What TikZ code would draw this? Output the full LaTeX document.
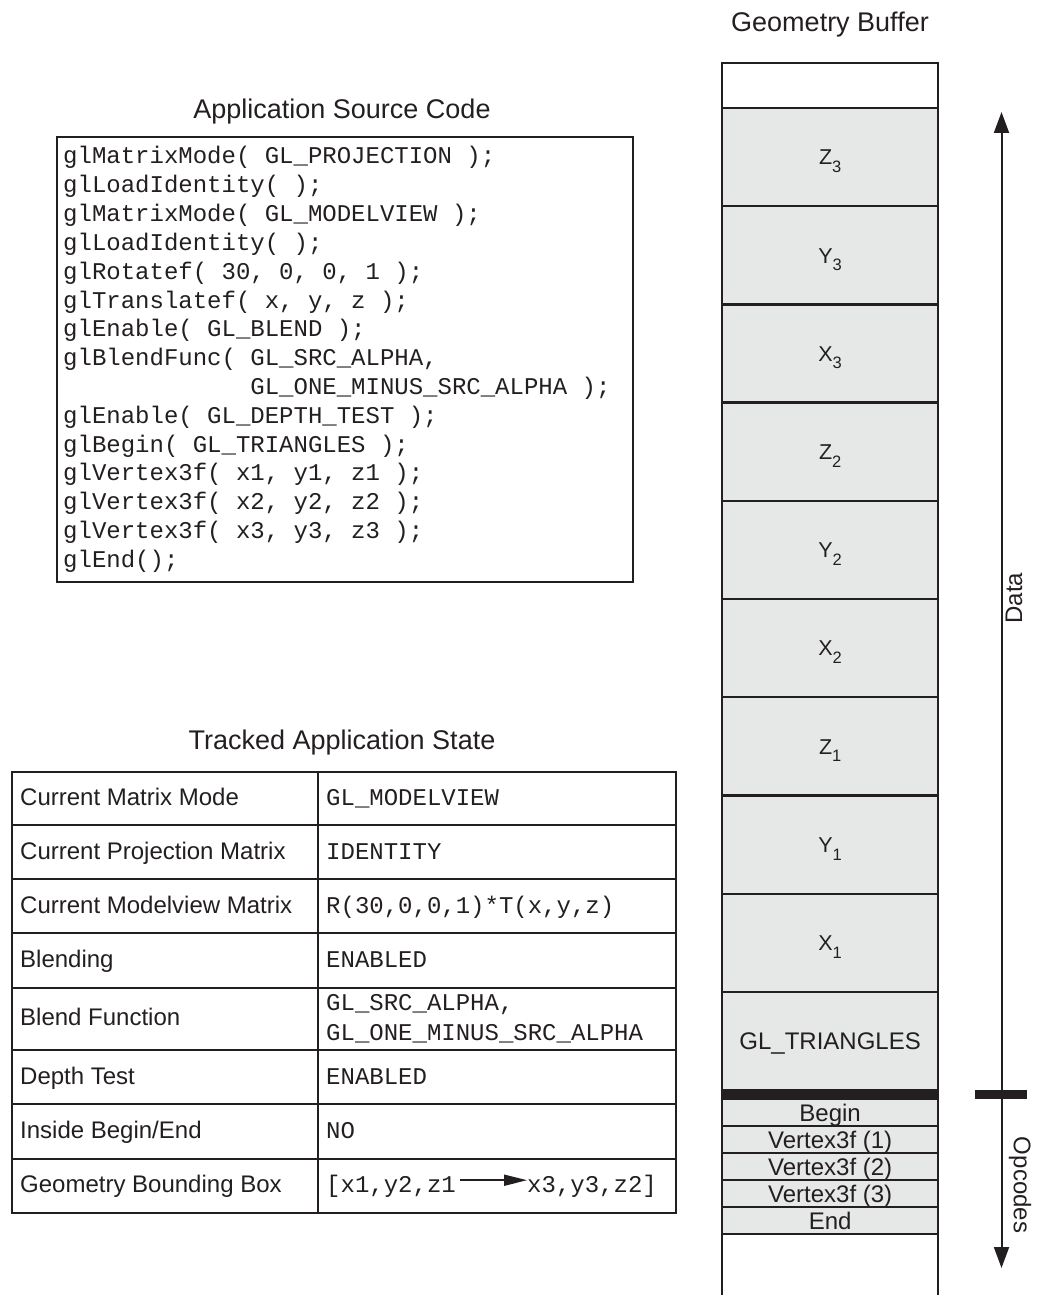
\documentclass[tikz,border=0pt]{standalone}
\usepackage{fontspec}
\setmainfont{Liberation Sans}
\setmonofont{Liberation Mono}
\usetikzlibrary{arrows.meta}
\definecolor{ink}{HTML}{231F20}
\definecolor{cellgray}{HTML}{E6E7E7}
\newcommand{\codefont}{\ttfamily\frenchspacing\fontsize{24}{24}\selectfont}
\newcommand{\sansfont}{\fontsize{24}{24}\selectfont}
\newcommand{\titlefont}{\fontsize{27}{27}\selectfont}
\newcommand{\bufsub}[2]{#1\raisebox{-7.7pt}{\fontsize{16.5}{16.5}\selectfont #2}}
\begin{document}
\begin{tikzpicture}[x=1pt,y=-1pt,
  every node/.style={text=ink},
  title/.style={font=\titlefont, anchor=base, inner sep=0pt},
  codeline/.style={font=\codefont, anchor=base west, inner sep=0pt},
  lbltext/.style={font=\sansfont, anchor=base west, inner sep=0pt},
  valtext/.style={font=\codefont, anchor=base west, inner sep=0pt},
  tcell/.style={draw=ink, line width=2pt, inner sep=0pt, anchor=north west},
  bcell/.style={draw=ink, line width=2.3pt, fill=cellgray, inner sep=0pt, minimum width=215.7pt, text height=17.2pt, text depth=0pt, font=\sansfont},
  lcell/.style={bcell, text height=15.4pt, font=\fontsize{21.5}{21.5}\selectfont},
  arr/.style={draw=ink, line width=2pt, -{Triangle[length=21pt,width=15pt]}},
  thick bar/.style={draw=ink, line width=9.3pt}
]
\useasboundingbox (0,0) rectangle (1037,1295);

% ---------- Application source code ----------
\node[title] (srcTitle) at (342,119) {Application Source Code};
\node[draw=ink, line width=2pt, inner sep=0pt, minimum width=576pt, minimum height=445pt, anchor=north west] (codeBox) at (56,136) {};
\node[codeline] (c1)  at (63,164.0) {glMatrixMode( GL\_PROJECTION );};
\node[codeline] (c2)  at (63,192.8) {glLoadIdentity( );};
\node[codeline] (c3)  at (63,221.6) {glMatrixMode( GL\_MODELVIEW );};
\node[codeline] (c4)  at (63,250.4) {glLoadIdentity( );};
\node[codeline] (c5)  at (63,279.2) {glRotatef( 30, 0, 0, 1 );};
\node[codeline] (c6)  at (63,308.0) {glTranslatef( x, y, z );};
\node[codeline] (c7)  at (63,336.8) {glEnable( GL\_BLEND );};
\node[codeline] (c8)  at (63,365.6) {glBlendFunc( GL\_SRC\_ALPHA,};
\node[codeline] (c9)  at (63,394.4) {\hphantom{glBlendFunc( }GL\_ONE\_MINUS\_SRC\_ALPHA );};
\node[codeline] (c10) at (63,423.2) {glEnable( GL\_DEPTH\_TEST );};
\node[codeline] (c11) at (63,452.0) {glBegin( GL\_TRIANGLES );};
\node[codeline] (c12) at (63,480.8) {glVertex3f( x1, y1, z1 );};
\node[codeline] (c13) at (63,509.6) {glVertex3f( x2, y2, z2 );};
\node[codeline] (c14) at (63,538.4) {glVertex3f( x3, y3, z3 );};
\node[codeline] (c15) at (63,567.2) {glEnd();};

% ---------- Tracked application state ----------
\node[title] (stTitle) at (342,749.3) {Tracked Application State};
% rows: 770.7, 824, 878.3, 932.3, 986.7, 1049.3, 1103.3, 1157.7, 1211.7
\foreach \n/\top/\h in {1/770.7/53.3, 2/824/54.3, 3/878.3/54, 4/932.3/54.4, 5/986.7/62.6, 6/1049.3/54, 7/1103.3/54.4, 8/1157.7/54}{
  \node[tcell, minimum width=306pt, minimum height=\h pt] (L\n) at (10.7,\top) {};
  \node[tcell, minimum width=358.3pt, minimum height=\h pt] (V\n) at (316.7,\top) {};
}
\node[lbltext] (l1) at (20,805.3) {Current Matrix Mode};
\node[lbltext] (l2) at (20,859.2) {Current Projection Matrix};
\node[lbltext] (l3) at (20,913.3) {Current Modelview Matrix};
\node[lbltext] (l4) at (20,967.5) {Blending};
\node[lbltext] (l5) at (20,1025.5) {Blend Function};
\node[lbltext] (l6) at (20,1084.3) {Depth Test};
\node[lbltext] (l7) at (20,1138.5) {Inside Begin/End};
\node[lbltext] (l8) at (20,1192.7) {Geometry Bounding Box};

\node[valtext] (v1) at (326,805.3) {GL\_MODELVIEW};
\node[valtext] (v2) at (326,859.2) {IDENTITY};
\node[valtext] (v3) at (326,913.3) {R(30,0,0,1)*T(x,y,z)};
\node[valtext] (v4) at (326,967.5) {ENABLED};
\node[valtext] (v5a) at (326,1010.7) {GL\_SRC\_ALPHA,};
\node[valtext] (v5b) at (326,1040.0) {GL\_ONE\_MINUS\_SRC\_ALPHA};
\node[valtext] (v6) at (326,1084.3) {ENABLED};
\node[valtext] (v7) at (326,1138.5) {NO};
\node[valtext] (v8a) at (326,1192.7) {[x1,y2,z1};
\node[valtext] (v8b) at (527,1192.7) {x3,y3,z2]};
\draw[draw=ink, line width=1.6pt, -{Triangle[length=23pt,width=11pt]}]
  ([xshift=4pt,yshift=12.5pt]v8a.base east) -- ([yshift=12.5pt]v8b.base west);

% ---------- Geometry buffer ----------
\node[title] (gbTitle) at (830,31.5) {Geometry Buffer};
\coordinate (bTL) at (722.3,63);
\coordinate (bBL) at (722.3,1295);
\coordinate (bTR) at (938,63);
\coordinate (bBR) at (938,1295);
\draw[draw=ink, line width=2.3pt] (bTL) -- (bBL);
\draw[draw=ink, line width=2.3pt] (bTR) -- (bBR);
\node[bcell, fill=white, minimum height=45pt] (topFree) at (830.15,85.5) {};
\node[lcell, minimum height=98.2pt] (Z3) at (830.15,157.1) {\bufsub{Z}{3}};
\node[lcell, minimum height=98.2pt] (Y3) at (830.15,255.3) {\bufsub{Y}{3}};
\node[lcell, minimum height=98.2pt] (X3) at (830.15,353.5) {\bufsub{X}{3}};
\node[lcell, minimum height=98.2pt] (Z2) at (830.15,451.8) {\bufsub{Z}{2}};
\node[lcell, minimum height=98.2pt] (Y2) at (830.15,550.0) {\bufsub{Y}{2}};
\node[lcell, minimum height=98.2pt] (X2) at (830.15,648.2) {\bufsub{X}{2}};
\node[lcell, minimum height=98.2pt] (Z1) at (830.15,746.4) {\bufsub{Z}{1}};
\node[lcell, minimum height=98.2pt] (Y1) at (830.15,844.7) {\bufsub{Y}{1}};
\node[lcell, minimum height=98.2pt] (X1) at (830.15,942.9) {\bufsub{X}{1}};
\node[bcell, minimum height=98pt] (tri) at (830.15,1041) {GL\_TRIANGLES};
\node[bcell, minimum height=26.9pt] (op1) at (830.15,1112.75) {Begin};
\node[bcell, minimum height=26.9pt] (op2) at (830.15,1139.65) {Vertex3f (1)};
\node[bcell, minimum height=26.9pt] (op3) at (830.15,1166.6) {Vertex3f (2)};
\node[bcell, minimum height=26.9pt] (op4) at (830.15,1193.55) {Vertex3f (3)};
\node[bcell, minimum height=26.9pt] (op5) at (830.15,1220.5) {End};
\coordinate (sepL) at (721,1094.7);
\coordinate (sepR) at (939.3,1094.7);
\draw[thick bar] (sepL) -- (sepR);

% ---------- Data / Opcodes arrows ----------
\coordinate (mk) at (1001.5,1094.7);
\coordinate (mkL) at (975,1094.7);
\coordinate (mkR) at (1027,1094.7);
\coordinate (dataTip) at (1001.5,112);
\coordinate (opTip) at (1001.5,1268);
\draw[arr] (mk) -- (dataTip);
\draw[arr] (mk) -- (opTip);
\draw[thick bar] (mkL) -- (mkR);
\node[font=\sansfont, rotate=90, inner sep=0pt] (dataLbl) at (1014,598) {Data};
\node[font=\sansfont, rotate=-90, inner sep=0pt] (opLbl) at (1020,1185) {Opcodes};
\end{tikzpicture}
\end{document}
